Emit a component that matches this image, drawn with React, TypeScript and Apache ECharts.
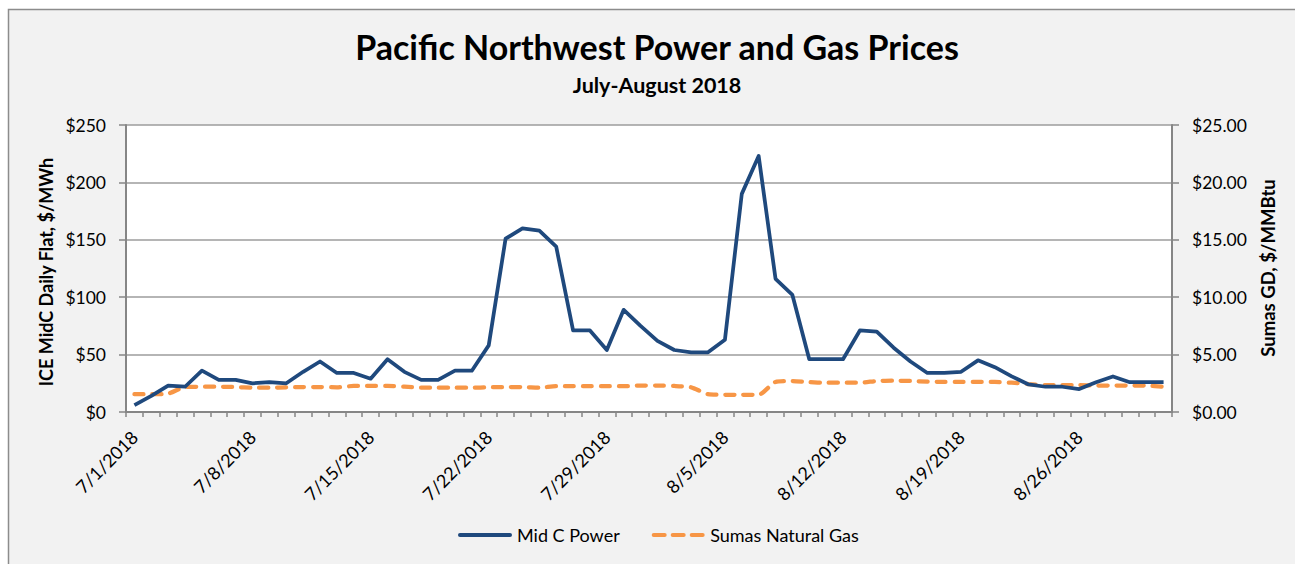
import React, { useEffect, useRef } from "react";
import * as echarts from "echarts";

const categories = [
  "7/1/2018","7/2/2018","7/3/2018","7/4/2018","7/5/2018","7/6/2018","7/7/2018",
  "7/8/2018","7/9/2018","7/10/2018","7/11/2018","7/12/2018","7/13/2018","7/14/2018",
  "7/15/2018","7/16/2018","7/17/2018","7/18/2018","7/19/2018","7/20/2018","7/21/2018",
  "7/22/2018","7/23/2018","7/24/2018","7/25/2018","7/26/2018","7/27/2018","7/28/2018",
  "7/29/2018","7/30/2018","7/31/2018","8/1/2018","8/2/2018","8/3/2018","8/4/2018",
  "8/5/2018","8/6/2018","8/7/2018","8/8/2018","8/9/2018","8/10/2018","8/11/2018",
  "8/12/2018","8/13/2018","8/14/2018","8/15/2018","8/16/2018","8/17/2018","8/18/2018",
  "8/19/2018","8/20/2018","8/21/2018","8/22/2018","8/23/2018","8/24/2018","8/25/2018",
  "8/26/2018","8/27/2018","8/28/2018","8/29/2018","8/30/2018","8/31/2018",
];

const midCPower = [
  6, 14, 23, 22, 36, 28, 28,
  25, 26, 25, 35, 44, 34, 34,
  29, 46, 35, 28, 28, 36, 36,
  58, 151, 160, 158, 144, 71, 71,
  54, 89, 75, 62, 54, 52, 52,
  63, 190, 223, 116, 102, 46, 46,
  46, 71, 70, 56, 44, 34, 34,
  35, 45, 39, 31, 24, 22, 22,
  20, 26, 31, 26, 26, 26,
];

const sumasGas = [
  1.55, 1.55, 1.6, 2.18, 2.2, 2.2, 2.17,
  2.12, 2.12, 2.15, 2.17, 2.17, 2.15, 2.27,
  2.27, 2.27, 2.2, 2.12, 2.12, 2.12, 2.12,
  2.15, 2.17, 2.17, 2.12, 2.25, 2.25, 2.25,
  2.25, 2.25, 2.3, 2.3, 2.27, 2.15, 1.55,
  1.5, 1.5, 1.5, 2.62, 2.7, 2.6, 2.55,
  2.55, 2.55, 2.7, 2.73, 2.7, 2.65, 2.62,
  2.62, 2.62, 2.62, 2.55, 2.43, 2.35, 2.35,
  2.35, 2.3, 2.3, 2.3, 2.3, 2.2,
];

const seriesNames = ["Mid C Power", "Sumas Natural Gas"];
const titleText = "Pacific Northwest Power and Gas Prices";
const subtitleText = "July-August 2018";
const leftAxisName = "ICE MidC Daily Flat, $/MWh";
const rightAxisName = "Sumas GD, $/MMBtu";

const FONT = "Lato, 'Noto Sans', sans-serif";
const BLUE = "#1F497D";
const ORANGE = "#F79646";

export default function App() {
  const ref = useRef<HTMLDivElement>(null);
  useEffect(() => {
    if (!ref.current) return;
    const chart = echarts.init(ref.current, null, { renderer: "svg" });
    const axisColor = "#868686";
    chart.setOption({
      animation: false,
      backgroundColor: "#ffffff",
      textStyle: { fontFamily: FONT },
      graphic: [
        {
          type: "rect",
          z: -10,
          silent: true,
          shape: { x: 8.5, y: 9.5, width: 1300, height: 600 },
          style: { fill: "#f2f2f2", stroke: "#8c8c8c", lineWidth: 1.5 },
        },
        {
          type: "text",
          x: 657,
          y: 46,
          style: {
            text: titleText,
            fontFamily: FONT,
            fontWeight: "bold",
            fontSize: 34,
            fill: "#000",
            textAlign: "center",
            textVerticalAlign: "middle",
          },
        },
        {
          type: "text",
          x: 657,
          y: 85,
          style: {
            text: subtitleText,
            fontFamily: FONT,
            fontWeight: "bold",
            fontSize: 21.5,
            fill: "#000",
            textAlign: "center",
            textVerticalAlign: "middle",
          },
        },
        {
          type: "text",
          x: 46,
          y: 272,
          rotation: Math.PI / 2,
          style: {
            text: leftAxisName,
            fontFamily: FONT,
            fontWeight: "bold",
            fontSize: 18,
            fill: "#000",
            textAlign: "center",
            textVerticalAlign: "middle",
          },
        },
        {
          type: "text",
          x: 1268,
          y: 268,
          rotation: Math.PI / 2,
          style: {
            text: rightAxisName,
            fontFamily: FONT,
            fontWeight: "bold",
            fontSize: 18.5,
            fill: "#000",
            textAlign: "center",
            textVerticalAlign: "middle",
          },
        },
      ],
      grid: {
        left: 126,
        right: 1295 - 1172,
        top: 125,
        bottom: 564 - 412,
        show: true,
        backgroundColor: "#ffffff",
        borderWidth: 0,
      },
      legend: {
        left: 453,
        top: 521,
        itemWidth: 54,
        itemHeight: 4,
        itemGap: 32,
        textStyle: { fontFamily: FONT, fontSize: 18, color: "#000" },
        data: [
          {
            name: seriesNames[0],
            icon: "path://M2,0 H52 A2,2 0 0 1 52,4 H2 A2,2 0 0 1 2,0 Z",
            itemStyle: { color: BLUE },
          },
          {
            name: seriesNames[1],
            icon: "path://M2,0 H13 A2,2 0 0 1 13,4 H2 A2,2 0 0 1 2,0 Z M21,0 H32 A2,2 0 0 1 32,4 H21 A2,2 0 0 1 21,0 Z M40,0 H51 A2,2 0 0 1 51,4 H40 A2,2 0 0 1 40,0 Z",
            itemStyle: { color: ORANGE },
          },
        ],
      },
      xAxis: {
        type: "category",
        data: categories,
        boundaryGap: true,
        axisLine: { lineStyle: { color: axisColor, width: 2 } },
        axisTick: { show: true, interval: 0, length: 5, lineStyle: { color: axisColor, width: 1.5 } },
        axisLabel: {
          interval: 6,
          rotate: 45,
          margin: 22,
          fontFamily: FONT,
          fontSize: 18,
          color: "#000",
        },
        splitLine: { show: false },
      },
      yAxis: [
        {
          type: "value",
          min: 0,
          max: 250,
          interval: 50,
          axisLine: { show: true, lineStyle: { color: axisColor, width: 2 } },
          axisTick: { show: true, length: 7, lineStyle: { color: axisColor, width: 1.5 } },
          axisLabel: {
            formatter: (v: number) => "$" + v,
            margin: 20,
            fontFamily: FONT,
            fontSize: 17.5,
            color: "#000",
          },
          splitLine: { show: true, lineStyle: { color: "#9d9d9d", width: 1.5 } },
        },
        {
          type: "value",
          min: 0,
          max: 25,
          interval: 5,
          position: "right",
          axisLine: { show: true, lineStyle: { color: axisColor, width: 2 } },
          axisTick: { show: true, length: 7, lineStyle: { color: axisColor, width: 1.5 } },
          axisLabel: {
            formatter: (v: number) => "$" + v.toFixed(2),
            margin: 20,
            fontFamily: FONT,
            fontSize: 17.5,
            color: "#000",
          },
          splitLine: { show: false },
        },
      ],
      series: [
        {
          name: seriesNames[0],
          type: "line",
          yAxisIndex: 0,
          data: midCPower,
          symbol: "none",
          lineStyle: { color: BLUE, width: 3.75, join: "round" },
          itemStyle: { color: BLUE },
          z: 3,
        },
        {
          name: seriesNames[1],
          type: "line",
          yAxisIndex: 1,
          data: sumasGas,
          symbol: "none",
          smooth: 0.2,
          lineStyle: { color: ORANGE, width: 4.25, type: [9, 9], cap: "round" },
          itemStyle: { color: ORANGE },
          z: 2,
        },
      ],
    });
    return () => chart.dispose();
  }, []);
  return (
    <div
      ref={ref}
      style={{ position: "absolute", left: 0, top: 0, width: 1295, height: 564 }}
    />
  );
}
